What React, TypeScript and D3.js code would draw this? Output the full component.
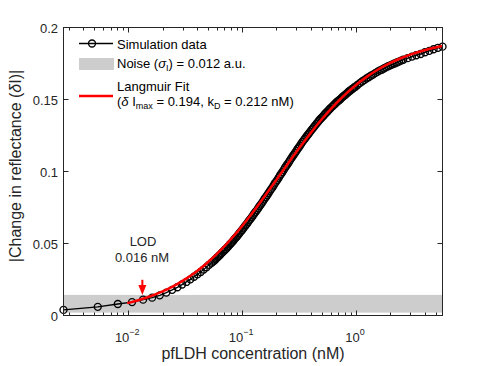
// Langmuir binding curve: simulated reflectance change vs pfLDH concentration
import { useRef, useEffect } from 'react'
import * as d3 from 'd3'

// simulated data (nM, a.u.)
const concentration = [
  0.0027, 0.0054, 0.0081, 0.0108, 0.0135, 0.0162, 0.0189, 0.0216, 0.0243, 0.027,
  0.0297, 0.0324, 0.0351, 0.0378, 0.0405, 0.0432, 0.0459, 0.0486, 0.0513, 0.054,
  0.0555, 0.057, 0.0585, 0.06, 0.0615, 0.063, 0.0645, 0.066, 0.068, 0.07,
  0.072, 0.074, 0.076, 0.078, 0.08, 0.082, 0.084, 0.086, 0.088, 0.09,
  0.0925, 0.095, 0.0975, 0.1, 0.1025, 0.105, 0.1075, 0.11, 0.113, 0.116,
  0.119, 0.122, 0.125, 0.128, 0.1315, 0.135, 0.1385, 0.142, 0.146, 0.15,
  0.154, 0.158, 0.162, 0.166, 0.1705, 0.175, 0.1795, 0.184, 0.189, 0.194,
  0.199, 0.204, 0.2095, 0.215, 0.2205, 0.226, 0.232, 0.238, 0.244, 0.25,
  0.2565, 0.263, 0.27, 0.277, 0.284, 0.291, 0.2985, 0.306, 0.314, 0.322,
  0.3305, 0.339, 0.348, 0.357, 0.3665, 0.376, 0.3855, 0.395, 0.4055, 0.416,
  0.427, 0.438, 0.449, 0.46, 0.472, 0.484, 0.497, 0.51, 0.523, 0.536,
  0.55, 0.564, 0.579, 0.594, 0.6095, 0.625, 0.641, 0.657, 0.6745, 0.692,
  0.71, 0.728, 0.747, 0.766, 0.786, 0.806, 0.827, 0.848, 0.87, 0.892,
  0.9155, 0.939, 0.9635, 0.988, 1.03, 1.08, 1.13, 1.18, 1.235, 1.29,
  1.35, 1.41, 1.475, 1.54, 1.61, 1.68, 1.755, 1.83, 1.915, 2.0,
  2.09, 2.18, 2.28, 2.38, 2.49, 2.6, 2.84, 3.1, 3.38, 3.69,
  4.03, 4.4, 4.8, 5.24, 5.75,
]
const reflectance = [
  0.0039, 0.006, 0.008, 0.0093, 0.011, 0.0124, 0.014, 0.0159, 0.0178, 0.0196,
  0.0215, 0.0233, 0.0251, 0.0269, 0.0286, 0.0302, 0.0319, 0.0335, 0.0352, 0.0366,
  0.0374, 0.0382, 0.0391, 0.04, 0.0408, 0.0416, 0.0424, 0.0433, 0.0443, 0.0453,
  0.0462, 0.0472, 0.0482, 0.0493, 0.0502, 0.0511, 0.0521, 0.0532, 0.0541, 0.0549,
  0.0561, 0.0573, 0.0584, 0.0594, 0.0605, 0.0617, 0.0627, 0.0636, 0.0649, 0.0662,
  0.0673, 0.0684, 0.0696, 0.0708, 0.072, 0.0732, 0.0745, 0.0759, 0.0771, 0.0784,
  0.0798, 0.0812, 0.0823, 0.0835, 0.0849, 0.0864, 0.0876, 0.0888, 0.0903, 0.0918,
  0.093, 0.0942, 0.0957, 0.0972, 0.0984, 0.0996, 0.1011, 0.1026, 0.1038, 0.105,
  0.1063, 0.1077, 0.1091, 0.1104, 0.1116, 0.1128, 0.1141, 0.1155, 0.1167, 0.1179,
  0.1193, 0.1206, 0.1218, 0.1229, 0.1241, 0.1253, 0.1264, 0.1275, 0.1287, 0.1298,
  0.1309, 0.132, 0.1331, 0.1341, 0.1352, 0.1363, 0.1372, 0.1381, 0.1391, 0.1401,
  0.141, 0.1418, 0.1429, 0.1437, 0.1447, 0.1454, 0.1464, 0.1471, 0.1481, 0.1488,
  0.1495, 0.1502, 0.1511, 0.1519, 0.1526, 0.1533, 0.1541, 0.1549, 0.1557, 0.1563,
  0.157, 0.1576, 0.1584, 0.1589, 0.1601, 0.1614, 0.1625, 0.1635, 0.1646, 0.1655,
  0.1665, 0.1673, 0.1683, 0.1692, 0.1701, 0.1707, 0.1715, 0.1723, 0.1731, 0.1737,
  0.1744, 0.175, 0.1757, 0.1763, 0.177, 0.1776, 0.1787, 0.1798, 0.1807, 0.1816,
  0.1828, 0.1838, 0.1849, 0.1859, 0.1867,
]

// Langmuir fit curve
const fitConc = [
  0.0098, 0.012, 0.015, 0.02, 0.025, 0.03, 0.04, 0.05, 0.06, 0.08,
  0.1, 0.12, 0.15, 0.2, 0.25, 0.3, 0.4, 0.5, 0.6, 0.8,
  1.0, 1.25, 1.5, 2.0, 2.5, 3.0, 4.0, 5.0, 5.75,
]
const fitValue = [
  0.00857, 0.01039, 0.01282, 0.01672, 0.02046, 0.02405, 0.03079, 0.03702, 0.04279, 0.05315,
  0.06218, 0.07012, 0.08039, 0.09417, 0.10498, 0.11367, 0.1268, 0.13624, 0.14335, 0.15336,
  0.16007, 0.16587, 0.16998, 0.17541, 0.17884, 0.1812, 0.18424, 0.18611, 0.1871,
]

// noise band and LOD marker
const noiseBand = [0.002, 0.0143]
const lodConc = 0.0133
const lodArrow = [0.0248, 0.0143]

const yTicks = [0, 0.05, 0.1, 0.15, 0.2]
const yTickLabels = ['0', '0.05', '0.1', '0.15', '0.2']
const xTickExps = [-2, -1, 0]

const FONT = 'Liberation Sans, Arial, Helvetica, sans-serif'
const AXIS = '#262626'

export default function App() {
  const svgRef = useRef<SVGSVGElement>(null)

  useEffect(() => {
    const svg = d3.select(svgRef.current)
    svg.selectAll('*').remove()

    const x = d3.scaleLog().domain([concentration[0], concentration[concentration.length - 1]]).range([63.5, 442.5])
    const y = d3.scaleLinear().domain([0, 0.2]).range([315.5, 27.5])
    const [x0, x1] = x.range()
    const [y0, y1] = y.range()

    svg.append('rect').attr('width', 488).attr('height', 366).attr('fill', '#fff')

    // noise band
    svg.append('rect')
      .attr('x', x0).attr('width', x1 - x0)
      .attr('y', y(noiseBand[1])).attr('height', y(noiseBand[0]) - y(noiseBand[1]))
      .attr('fill', '#cdcdcd')

    // simulation data
    const pts = concentration.map((c, i) => [c, reflectance[i]] as [number, number])
    const line = d3.line<[number, number]>().x(d => x(d[0])).y(d => y(d[1]))
    svg.append('path').attr('d', line(pts)).attr('fill', 'none')
      .attr('stroke', '#000').attr('stroke-width', 1.4)
    svg.append('g').selectAll('circle')
      .data(pts)
      .join('circle')
      .attr('cx', d => x(d[0])).attr('cy', d => y(d[1]))
      .attr('r', 3.5)
      .attr('fill', 'none').attr('stroke', '#000').attr('stroke-width', 1.35)

    // fit
    const fitPts = fitConc.map((c, i) => [c, fitValue[i]] as [number, number])
    svg.append('path').attr('d', line.curve(d3.curveMonotoneX)(fitPts)).attr('fill', 'none')
      .attr('stroke', '#ff0000').attr('stroke-width', 2.5)

    // axes box + ticks
    const g = svg.append('g').attr('stroke', AXIS).attr('stroke-width', 1).attr('fill', 'none')
    g.append('rect').attr('x', x0).attr('y', y1).attr('width', x1 - x0).attr('height', y0 - y1)
    const minor: number[] = []
    for (let e = -3; e <= 0; e++) {
      for (let m = 2; m <= 9; m++) {
        const v = m * Math.pow(10, e)
        if (v > x.domain()[0] && v < x.domain()[1]) minor.push(v)
      }
    }
    minor.forEach(v => {
      const px = Math.round(x(v)) + 0.5
      g.append('line').attr('x1', px).attr('x2', px).attr('y1', y0).attr('y2', y0 - 3)
      g.append('line').attr('x1', px).attr('x2', px).attr('y1', y1).attr('y2', y1 + 3)
    })
    xTickExps.forEach(e => {
      const px = Math.round(x(Math.pow(10, e))) + 0.5
      g.append('line').attr('x1', px).attr('x2', px).attr('y1', y0).attr('y2', y0 - 5)
      g.append('line').attr('x1', px).attr('x2', px).attr('y1', y1).attr('y2', y1 + 5)
    })
    yTicks.forEach(v => {
      g.append('line').attr('x1', x0).attr('x2', x0 + 5).attr('y1', y(v)).attr('y2', y(v))
      g.append('line').attr('x1', x1).attr('x2', x1 - 5).attr('y1', y(v)).attr('y2', y(v))
    })

    const txt = svg.append('g').attr('font-family', FONT).attr('fill', AXIS)

    // y tick labels
    yTicks.forEach((v, i) => {
      txt.append('text').attr('x', 58).attr('y', y(v) + 5)
        .attr('text-anchor', 'end').attr('font-size', 13).text(yTickLabels[i])
    })
    // x tick labels 10^e
    xTickExps.forEach(e => {
      const t = txt.append('text').attr('x', x(Math.pow(10, e)) - 1).attr('y', 341.5)
        .attr('text-anchor', 'middle').attr('font-size', 13)
      t.append('tspan').text('10')
      t.append('tspan').attr('dy', -7).attr('font-size', 9).text(e < 0 ? '\u2212' + Math.abs(e) : String(e))
    })

    // axis labels
    txt.append('text').attr('x', (x0 + x1) / 2).attr('y', 359)
      .attr('text-anchor', 'middle').attr('font-size', 16).text('pfLDH concentration (nM)')
    const yl = txt.append('text').attr('transform', 'translate(21,166) rotate(-90)')
      .attr('text-anchor', 'middle').attr('font-size', 16)
    yl.append('tspan').text('|Change in reflectance (')
    yl.append('tspan').attr('font-style', 'italic').text('\u03b4')
    yl.append('tspan').text('I)|')

    // LOD annotation
    txt.append('text').attr('x', 143).attr('y', 246).attr('text-anchor', 'middle')
      .attr('font-size', 13).text('LOD')
    txt.append('text').attr('x', 142).attr('y', 262).attr('text-anchor', 'middle')
      .attr('font-size', 13).text('0.016 nM')
    const ax = x(lodConc)
    const tipY = y(lodArrow[1])
    svg.append('line').attr('x1', ax).attr('x2', ax)
      .attr('y1', y(lodArrow[0])).attr('y2', tipY - 8)
      .attr('stroke', '#ff0000').attr('stroke-width', 2)
    svg.append('path')
      .attr('d', `M${ax - 4},${tipY - 10}L${ax + 4},${tipY - 10}L${ax},${tipY}Z`)
      .attr('fill', '#ff0000')

    // legend
    const lg = svg.append('g')
    lg.append('line').attr('x1', 79).attr('x2', 113).attr('y1', 43.5).attr('y2', 43.5)
      .attr('stroke', '#000').attr('stroke-width', 1.4)
    lg.append('circle').attr('cx', 92).attr('cy', 43.5).attr('r', 3.5)
      .attr('fill', 'none').attr('stroke', '#000').attr('stroke-width', 1.35)
    lg.append('rect').attr('x', 79).attr('y', 58).attr('width', 35).attr('height', 12)
      .attr('fill', '#cdcdcd')
    lg.append('line').attr('x1', 79).attr('x2', 113).attr('y1', 96).attr('y2', 96)
      .attr('stroke', '#ff0000').attr('stroke-width', 2.5)

    const lt = lg.append('g').attr('font-family', FONT).attr('font-size', 13).attr('fill', '#000')
    lt.append('text').attr('x', 117).attr('y', 49).text('Simulation data')
    const n = lt.append('text').attr('x', 117).attr('y', 67.5)
    n.append('tspan').text('Noise (')
    n.append('tspan').attr('font-style', 'italic').text('\u03c3')
    n.append('tspan').attr('dy', 3).attr('font-size', 9).text('I')
    n.append('tspan').attr('dy', -3).text(') = 0.012 a.u.')
    lt.append('text').attr('x', 117).attr('y', 91).text('Langmuir Fit')
    const f = lt.append('text').attr('x', 117).attr('y', 105.5)
    f.append('tspan').text('(')
    f.append('tspan').attr('font-style', 'italic').text('\u03b4')
    f.append('tspan').text(' I')
    f.append('tspan').attr('dy', 3).attr('font-size', 9).text('max')
    f.append('tspan').attr('dy', -3).text(' = 0.194, k')
    f.append('tspan').attr('dy', 3).attr('font-size', 9).text('D')
    f.append('tspan').attr('dy', -3).text(' = 0.212 nM)')
  }, [])

  return <svg ref={svgRef} width={488} height={366}
    style={{ display: 'block', position: 'absolute', left: 0, top: 0 }} />
}
